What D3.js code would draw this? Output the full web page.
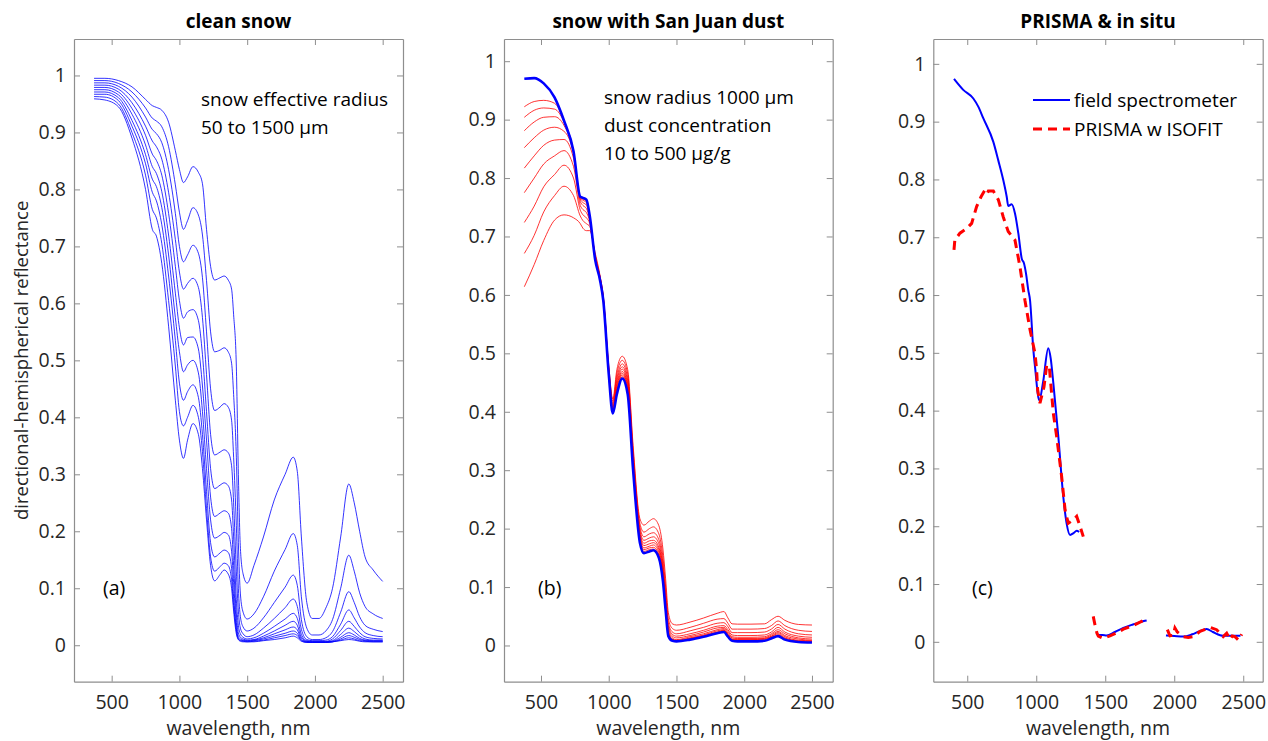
<!DOCTYPE html>
<html>
<head>
<meta charset="utf-8">
<script src="https://cdn.jsdelivr.net/npm/d3@7"></script>
<style>
  body { margin: 0; background: #fff; }
  svg { display: block; }
  text { font-family: "Open Sans", sans-serif; }
</style>
</head>
<body>
<div id="dviz"></div>
<script>
//<<< Data >>>

// (a) clean snow, one curve per effective radius (um)
const snowRadii = [50, 100, 200, 300, 400, 500, 600, 800, 1000, 1500];
const wlClean = [370,450,550,650,750,800,830,870,920,970,1000,1030,1060,1100,1140,1170,1200,1230,1260,1300,1330,1360,1385,1400,1420,1435,1450,1470,1500,1550,1620,1700,1780,1840,1870,1900,1940,1980,2030,2080,2130,2190,2250,2290,2330,2370,2430,2500];
const cleanRefl = [
  [.995,.995,.991,.980,.958,.947,.944,.939,.918,.868,.835,.812,.822,.840,.830,.810,.730,.665,.641,.645,.648,.641,.625,.580,.490,.300,.170,.125,.109,.140,.190,.255,.300,.330,.305,.190,.075,.047,.047,.065,.100,.190,.283,.250,.200,.155,.132,.112],
  [.991,.991,.986,.971,.943,.925,.920,.910,.875,.808,.760,.730,.745,.768,.755,.720,.640,.550,.515,.518,.522,.515,.495,.440,.330,.180,.090,.058,.046,.055,.085,.130,.168,.196,.175,.085,.030,.018,.018,.025,.045,.100,.158,.130,.092,.068,.055,.047],
  [.987,.987,.981,.962,.927,.905,.898,.882,.835,.758,.700,.673,.685,.702,.688,.645,.550,.450,.412,.418,.424,.418,.395,.330,.210,.100,.050,.032,.025,.030,.048,.075,.102,.123,.105,.045,.015,.010,.010,.013,.024,.058,.094,.075,.050,.035,.028,.024],
  [.983,.983,.976,.952,.911,.885,.875,.853,.795,.712,.655,.625,.635,.644,.628,.575,.475,.370,.334,.339,.343,.338,.315,.250,.130,.060,.030,.020,.015,.018,.030,.047,.066,.081,.068,.028,.010,.008,.008,.009,.015,.037,.062,.048,.032,.022,.017,.015],
  [.979,.979,.971,.942,.895,.862,.851,.825,.758,.665,.605,.574,.585,.589,.570,.510,.410,.310,.275,.281,.285,.280,.255,.190,.080,.035,.020,.014,.011,.013,.021,.033,.046,.056,.047,.019,.008,.007,.007,.007,.011,.026,.042,.033,.022,.015,.012,.011],
  [.975,.975,.966,.932,.878,.840,.828,.796,.720,.618,.557,.527,.540,.541,.520,.455,.360,.260,.226,.232,.236,.232,.205,.140,.055,.022,.014,.011,.009,.010,.016,.025,.035,.042,.035,.014,.007,.006,.006,.006,.008,.019,.030,.024,.016,.011,.009,.009],
  [.971,.971,.961,.921,.861,.818,.805,.768,.685,.575,.515,.480,.492,.500,.478,.410,.310,.220,.188,.193,.198,.194,.165,.110,.040,.015,.011,.009,.008,.009,.013,.020,.027,.032,.027,.011,.006,.006,.006,.006,.007,.014,.022,.018,.012,.009,.008,.008],
  [.967,.967,.956,.911,.845,.795,.780,.738,.648,.535,.460,.430,.445,.457,.435,.370,.270,.180,.155,.162,.167,.163,.135,.085,.030,.012,.009,.008,.007,.008,.011,.016,.021,.025,.021,.009,.006,.005,.005,.005,.006,.011,.017,.014,.010,.008,.007,.007],
  [.963,.962,.950,.900,.825,.765,.750,.705,.605,.490,.410,.385,.400,.421,.400,.340,.240,.155,.130,.138,.144,.140,.115,.070,.025,.010,.008,.007,.006,.007,.009,.013,.017,.020,.017,.008,.005,.005,.005,.005,.006,.009,.013,.011,.008,.007,.006,.006],
  [.959,.957,.945,.890,.800,.730,.718,.670,.560,.430,.360,.328,.360,.389,.370,.310,.220,.140,.113,.124,.132,.125,.100,.060,.020,.010,.007,.006,.006,.006,.008,.010,.013,.016,.013,.007,.005,.005,.005,.005,.006,.008,.010,.009,.007,.006,.006,.006]
];

// (b) snow radius 1000 um, clean (blue) and with dust 10..500 ug/g (red)
const wlDust = [377,450,520,600,670,740,790,810,835,860,900,935,960,1000,1030,1060,1100,1140,1180,1230,1260,1300,1330,1370,1400,1420,1440,1470,1500,1600,1700,1800,1850,1880,1910,1950,2050,2150,2200,2250,2300,2400,2500];
const cleanR1000 = [.970,.971,.962,.938,.898,.846,.768,.766,.763,.735,.660,.626,.590,.465,.397,.430,.457,.430,.300,.176,.158,.161,.163,.150,.110,.060,.016,.008,.007,.010,.015,.021,.023,.015,.008,.007,.007,.008,.012,.016,.010,.006,.005];
const dustRefl = [
  [.922,.931,.933,.928,.898,.846,.768,.766,.763,.735,.660,.626,.590,.466,.399,.433,.460,.433,.303,.180,.161,.164,.165,.153,.113,.063,.019,.009,.007,.011,.016,.022,.025,.017,.009,.009,.009,.010,.014,.018,.012,.007,.006],
  [.904,.916,.920,.918,.896,.846,.767,.764,.761,.734,.661,.627,.591,.467,.401,.436,.463,.436,.306,.183,.164,.167,.168,.156,.116,.066,.021,.010,.008,.012,.017,.023,.026,.018,.010,.010,.010,.011,.015,.020,.013,.008,.007],
  [.881,.896,.904,.905,.890,.845,.766,.762,.758,.733,.662,.627,.591,.468,.403,.440,.466,.440,.310,.187,.167,.170,.172,.160,.120,.070,.023,.011,.009,.013,.018,.025,.027,.019,.011,.011,.011,.012,.016,.022,.015,.009,.008],
  [.852,.869,.882,.887,.880,.842,.764,.758,.754,.731,.663,.628,.592,.469,.405,.444,.469,.444,.314,.190,.171,.174,.176,.164,.124,.074,.026,.013,.010,.015,.020,.027,.029,.021,.013,.012,.012,.013,.018,.024,.017,.011,.009],
  [.817,.838,.856,.865,.866,.834,.760,.753,.748,.729,.664,.629,.593,.470,.408,.448,.473,.448,.318,.194,.175,.179,.180,.168,.129,.079,.030,.016,.013,.017,.023,.030,.031,.024,.015,.014,.014,.015,.020,.027,.020,.013,.011],
  [.775,.800,.824,.838,.847,.820,.753,.746,.741,.726,.665,.630,.594,.472,.411,.453,.477,.453,.323,.198,.180,.184,.186,.174,.134,.084,.034,.019,.016,.020,.026,.033,.034,.027,.018,.017,.017,.018,.023,.031,.023,.016,.014],
  [.724,.752,.785,.806,.822,.800,.745,.737,.732,.722,.666,.631,.595,.474,.414,.458,.482,.458,.328,.203,.186,.191,.193,.181,.141,.091,.039,.023,.020,.025,.031,.038,.039,.032,.022,.022,.022,.023,.028,.036,.028,.020,.018],
  [.671,.702,.742,.770,.786,.770,.735,.727,.722,.717,.668,.632,.596,.476,.418,.465,.488,.465,.334,.209,.194,.200,.203,.191,.151,.100,.046,.029,.026,.031,.038,.045,.046,.038,.028,.028,.028,.029,.034,.042,.034,.026,.024],
  [.614,.652,.693,.728,.737,.732,.722,.714,.710,.710,.672,.634,.598,.480,.422,.472,.495,.472,.342,.217,.206,.213,.217,.205,.165,.114,.056,.037,.035,.040,.047,.055,.058,.047,.037,.0365,.0365,.037,.044,.050,.043,.036,.035]
];

// (c) field spectrometer vs PRISMA, split where water bands were dropped
const fieldSeg1 = [[404,.974],[471,.955],[544,.940],[580,.926],[616,.906],[689,.865],[725,.833],[761,.799],[786,.770],[797,.754],[822,.757],[846,.741],[870,.707],[895,.663],[911,.655],[926,.637],[942,.609],[955,.591],[979,.505],[991,.476],[1022,.418],[1050,.450],[1087,.508],[1105,.490],[1124,.447],[1160,.355],[1196,.251],[1220,.205],[1245,.185],[1270,.188],[1293,.192],[1311,.190]];
const fieldSeg2 = [[1450,.012],[1480,.012],[1510,.011],[1570,.017],[1631,.024],[1700,.030],[1752,.034],[1780,.036],[1800,.037]];
const fieldSeg3 = [[1940,.011],[2000,.010],[2066,.009],[2130,.013],[2180,.018],[2235,.022],[2280,.017],[2355,.0104],[2420,.0105],[2480,.0104]];
const prismaSeg1 = [[404,.678],[410,.695],[447,.707],[496,.715],[532,.724],[568,.753],[600,.770],[629,.782],[645,.776],[653,.780],[689,.780],[725,.765],[761,.735],[797,.710],[846,.695],[882,.649],[918,.591],[955,.540],[991,.499],[1003,.470],[1010,.436],[1027,.413],[1056,.441],[1076,.479],[1095,.476],[1105,.447],[1124,.395],[1148,.355],[1184,.286],[1209,.228],[1232,.205],[1268,.211],[1293,.217],[1317,.200],[1341,.182]];
const prismaSeg2 = [[1413,.044],[1426,.029],[1440,.015],[1450,.010],[1486,.006],[1534,.0104],[1580,.015],[1631,.022],[1700,.028],[1752,.034],[1776,.037],[1800,.035]];
const prismaSeg3 = [[1950,.021],[1969,.0104],[1993,.0115],[2005,.024],[2022,.017],[2066,.009],[2102,.0075],[2138,.009],[2187,.018],[2230,.022],[2259,.025],[2307,.021],[2355,.009],[2380,.015],[2404,.004],[2420,.010],[2440,.009],[2465,.003],[2489,.013]];

const xTicks = [500, 1000, 1500, 2000, 2500];
const yTicks = [0, 0.1, 0.2, 0.3, 0.4, 0.5, 0.6, 0.7, 0.8, 0.9, 1];

//<<< Layout >>>
var width = 1268, height = 741;
var plotTop = 39, plotBottom = 681.7;
var boxColor = "#8e8e8e", labelColor = "#262626";

const svg = d3.select("#dviz")
  .append("svg")
  .attr("width", width)
  .attr("height", height);

function makePanel(opts){
  var x = d3.scaleLinear().domain(opts.xDomain).range([opts.left, opts.right]);
  var y = d3.scaleLinear().domain(opts.yDomain).range([plotBottom, plotTop]);
  var g = svg.append("g");

  // box with inward ticks on all four sides
  g.append("g")
    .attr("transform", "translate(0," + plotBottom + ")")
    .call(d3.axisBottom(x).tickValues(xTicks).tickSizeInner(-6).tickSizeOuter(0).tickPadding(13).tickFormat(d3.format("d")));
  g.append("g")
    .attr("transform", "translate(0," + plotTop + ")")
    .call(d3.axisTop(x).tickValues(xTicks).tickSizeInner(-6).tickSizeOuter(0).tickFormat(""));
  g.append("g")
    .attr("transform", "translate(" + opts.left + ",0)")
    .call(d3.axisLeft(y).tickValues(yTicks).tickSizeInner(-6).tickSizeOuter(0).tickPadding(8).tickFormat(d3.format(".1~f")));
  g.append("g")
    .attr("transform", "translate(" + opts.right + ",0)")
    .call(d3.axisRight(y).tickValues(yTicks).tickSizeInner(-6).tickSizeOuter(0).tickFormat(""));

  g.selectAll(".domain").attr("stroke", boxColor).attr("stroke-width", 1.2);
  g.selectAll(".tick line").attr("stroke", boxColor).attr("stroke-width", 1);
  g.selectAll(".tick text")
    .attr("fill", labelColor)
    .style("font-size", "19.5px")
    .style("font-family", "'Open Sans', sans-serif");

  // title
  g.append("text")
    .attr("x", (opts.left + opts.right) / 2)
    .attr("y", 28)
    .attr("text-anchor", "middle")
    .style("font-size", "19px")
    .style("font-weight", "bold")
    .attr("fill", "#000")
    .text(opts.title);

  // x label
  g.append("text")
    .attr("x", (opts.left + opts.right) / 2)
    .attr("y", 735)
    .attr("text-anchor", "middle")
    .style("font-size", "19.5px")
    .attr("fill", labelColor)
    .text("wavelength, nm");

  // panel letter
  g.append("text")
    .attr("x", opts.letterX)
    .attr("y", 595)
    .style("font-size", "19.5px")
    .attr("fill", "#000")
    .text(opts.letter);

  return {x: x, y: y, g: g};
}

//<<< (a) clean snow >>>
var pa = makePanel({left: 74, right: 403, xDomain: [222, 2650], yDomain: [-0.064, 1.064],
  title: "clean snow", letter: "(a)", letterX: 103});

var lineA = d3.line()
  .x(function(d){ return pa.x(d[0]); })
  .y(function(d){ return pa.y(d[1]); })
  .curve(d3.curveMonotoneX);

pa.g.append("g").selectAll("path")
  .data(cleanRefl)
  .enter()
  .append("path")
  .attr("fill", "none")
  .attr("stroke", "#0000ff")
  .attr("stroke-width", 0.8)
  .attr("d", function(vals){ return lineA(vals.map(function(v, i){ return [wlClean[i], v]; })); });

pa.g.append("text").attr("x", 201).attr("y", 106).style("font-size", "19px").attr("fill", "#000")
  .text("snow effective radius");
pa.g.append("text").attr("x", 201).attr("y", 134).style("font-size", "19px").attr("fill", "#000")
  .text("50 to 1500 \u00b5m");

// y label
svg.append("text")
  .attr("transform", "translate(27.5," + ((plotTop + plotBottom) / 2) + ") rotate(-90)")
  .attr("text-anchor", "middle")
  .style("font-size", "18.5px")
  .attr("fill", labelColor)
  .text("directional-hemispherical reflectance");

//<<< (b) dusty snow >>>
var pb = makePanel({left: 504, right: 832.7, xDomain: [227, 2653], yDomain: [-0.062, 1.038],
  title: "snow with San Juan dust", letter: "(b)", letterX: 538});

var lineB = d3.line()
  .x(function(d){ return pb.x(d[0]); })
  .y(function(d){ return pb.y(d[1]); })
  .curve(d3.curveMonotoneX);

pb.g.append("g").selectAll("path")
  .data(dustRefl)
  .enter()
  .append("path")
  .attr("fill", "none")
  .attr("stroke", "#ff0000")
  .attr("stroke-width", 0.8)
  .attr("d", function(vals){ return lineB(vals.map(function(v, i){ return [wlDust[i], v]; })); });

pb.g.append("path")
  .attr("fill", "none")
  .attr("stroke", "#0000ff")
  .attr("stroke-width", 2.6)
  .attr("d", lineB(cleanR1000.map(function(v, i){ return [wlDust[i], v]; })));

["snow radius 1000 \u00b5m", "dust concentration", "10 to 500 \u00b5g/g"].forEach(function(s, i){
  pb.g.append("text").attr("x", 604).attr("y", 104 + i * 28).style("font-size", "19px").attr("fill", "#000").text(s);
});

//<<< (c) PRISMA & in situ >>>
var pc = makePanel({left: 933.3, right: 1262.7, xDomain: [254, 2641], yDomain: [-0.069, 1.043],
  title: "PRISMA & in situ", letter: "(c)", letterX: 972});

var lineC = d3.line()
  .x(function(d){ return pc.x(d[0]); })
  .y(function(d){ return pc.y(d[1]); });

[fieldSeg1, fieldSeg2, fieldSeg3].forEach(function(seg){
  pc.g.append("path")
    .attr("fill", "none")
    .attr("stroke", "#0000ff")
    .attr("stroke-width", 2)
    .attr("d", lineC.curve(d3.curveMonotoneX)(seg));
});
[prismaSeg1, prismaSeg2, prismaSeg3].forEach(function(seg){
  pc.g.append("path")
    .attr("fill", "none")
    .attr("stroke", "#ff0000")
    .attr("stroke-width", 3)
    .style("stroke-dasharray", "9,6")
    .attr("d", lineC.curve(d3.curveLinear)(seg));
});

// legend
var legendItems = [
  {label: "field spectrometer", color: "#0000ff", dash: null, w: 2, y: 100},
  {label: "PRISMA w ISOFIT", color: "#ff0000", dash: "9,6", w: 3, y: 129}
];
legendItems.forEach(function(d){
  pc.g.append("line")
    .attr("x1", 1033).attr("x2", 1070)
    .attr("y1", d.y).attr("y2", d.y)
    .attr("stroke", d.color)
    .attr("stroke-width", d.w)
    .style("stroke-dasharray", d.dash);
  pc.g.append("text")
    .attr("x", 1074).attr("y", d.y + 6.5)
    .style("font-size", "19px")
    .attr("fill", "#000")
    .text(d.label);
});
</script>
</body>
</html>
